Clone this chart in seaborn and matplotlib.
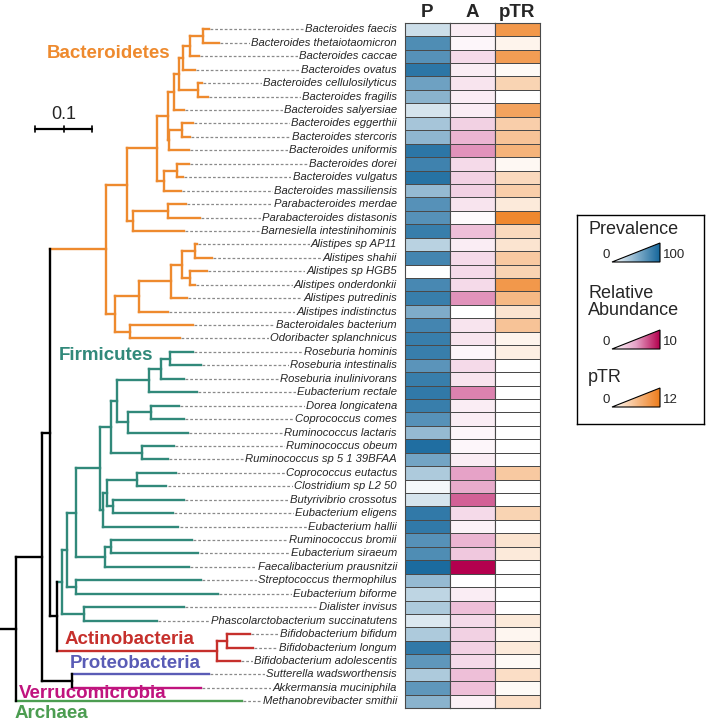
import numpy as np
import pandas as pd
import matplotlib
matplotlib.use("Agg")
import matplotlib.pyplot as plt
import seaborn as sns
from matplotlib.colors import LinearSegmentedColormap
from matplotlib.collections import LineCollection
from matplotlib.patches import Polygon

# ---- data -------------------------------------------------------------
BACTEROIDETES = (
    "(((((((((Bacteroides_faecis:0.011,Bacteroides_thetaiotaomicron:0.028):0.023,"
    "Bacteroides_caccae:0.016):0.012,Bacteroides_ovatus:0.021):0.007,"
    "(Bacteroides_cellulosilyticus:0.007,Bacteroides_fragilis:0.018):0.033):0.009,"
    "Bacteroides_salyersiae:0.018):0.011,"
    "((Bacteroides_eggerthii:0.019,Bacteroides_stercoris:0.014):0.023,"
    "Bacteroides_uniformis:0.035):0.002):0.018,"
    "((Bacteroides_dorei:0.021,Bacteroides_vulgatus:0.011):0.023,"
    "Bacteroides_massiliensis:0.030):0.011):0.053,"
    "((Parabacteroides_merdae:0.032,Parabacteroides_distasonis:0.056):0.060,"
    "Barnesiella_intestinihominis:0.088):0.011):0.037,"
    "(((((Alistipes_sp_AP11:0.004,Alistipes_shahii:0.030):0.023,"
    "(Alistipes_sp_HGB5:0.030,Alistipes_onderdonkii:0.009):0.014):0.019,"
    "Alistipes_putredinis:0.028):0.056,Alistipes_indistinctus:0.051):0.042,"
    "(Bacteroidales_bacterium:0.111,Odoribacter_splanchnicus:0.088):0.026):0.016)"
    "Bacteroidetes"
)
FIRMICUTES = (
    "(((((((((Roseburia_hominis:0.040,Roseburia_intestinalis:0.053):0.016,"
    "Roseburia_inulinivorans:0.039):0.021,Eubacterium_rectale:0.084):0.056,"
    "((Dorea_longicatena:0.049,Coprococcus_comes:0.058):0.040,"
    "Ruminococcus_lactaris:0.104):0.019):0.011,"
    "(Ruminococcus_obeum:0.056,Ruminococcus_sp_5_1_39BFAA:0.046):0.054):0.019,"
    "(((Coprococcus_eutactus:0.067,Clostridium_sp_L2_50:0.051):0.053,"
    "(Butyrivibrio_crossotus:0.123,Eubacterium_eligens:0.104):0.011):0.007,"
    "Eubacterium_hallii:0.132):0.005):0.042,"
    "((Ruminococcus_bromii:0.142,Eubacterium_siraeum:0.154):0.009,"
    "Faecalibacterium_prausnitzii:0.146):0.051):0.016,"
    "(Streptococcus_thermophilus:0.218,Eubacterium_biforme:0.249):0.016):0.009,"
    "(Dialister_invisus:0.174,Phascolarctobacterium_succinatutens:0.128):0.039)"
    "Firmicutes"
)
ACTINOBACTERIA = (
    "((Bifidobacterium_bifidum:0.040,Bifidobacterium_longum:0.044):0.018,"
    "Bifidobacterium_adolescentis:0.040)Actinobacteria"
)
TREE = (
    "(((" + BACTEROIDETES + ":0.098,(" + FIRMICUTES + ":0.009,"
    + ACTINOBACTERIA + ":0.281):0.012):0.014,"
    "(Sutterella_wadsworthensis:0.240,Akkermansia_muciniphila:0.225):0.053):0.046,"
    "Methanobrevibacter_smithii:0.396):0.028;"
)

SPECIES = [
    "Bacteroides faecis", "Bacteroides thetaiotaomicron", "Bacteroides caccae",
    "Bacteroides ovatus", "Bacteroides cellulosilyticus", "Bacteroides fragilis",
    "Bacteroides salyersiae", "Bacteroides eggerthii", "Bacteroides stercoris",
    "Bacteroides uniformis", "Bacteroides dorei", "Bacteroides vulgatus",
    "Bacteroides massiliensis", "Parabacteroides merdae", "Parabacteroides distasonis",
    "Barnesiella intestinihominis", "Alistipes sp AP11", "Alistipes shahii",
    "Alistipes sp HGB5", "Alistipes onderdonkii", "Alistipes putredinis",
    "Alistipes indistinctus", "Bacteroidales bacterium", "Odoribacter splanchnicus",
    "Roseburia hominis", "Roseburia intestinalis", "Roseburia inulinivorans",
    "Eubacterium rectale", "Dorea longicatena", "Coprococcus comes",
    "Ruminococcus lactaris", "Ruminococcus obeum", "Ruminococcus sp 5 1 39BFAA",
    "Coprococcus eutactus", "Clostridium sp L2 50", "Butyrivibrio crossotus",
    "Eubacterium eligens", "Eubacterium hallii", "Ruminococcus bromii",
    "Eubacterium siraeum", "Faecalibacterium prausnitzii", "Streptococcus thermophilus",
    "Eubacterium biforme", "Dialister invisus", "Phascolarctobacterium succinatutens",
    "Bifidobacterium bifidum", "Bifidobacterium longum", "Bifidobacterium adolescentis",
    "Sutterella wadsworthensis", "Akkermansia muciniphila", "Methanobrevibacter smithii",
]

PREVALENCE = [22, 75, 72, 90, 62, 50, 18, 38, 48, 90, 82, 92, 45, 72, 72, 85,
              30, 80, 0, 78, 85, 55, 80, 85, 85, 70, 85, 88, 85, 72, 45, 95, 60, 35,
              5, 18, 88, 88, 72, 75, 97, 45, 28, 35, 15, 35, 88, 68, 35, 68, 50]
ABUNDANCE = [1.0, 0.5, 2.0, 1.0, 1.5, 1.0, 1.0, 2.5, 4.0, 5.5, 2.0, 2.5,
             2.5, 1.5, 0.3, 3.5, 1.0, 2.0, 2.0, 2.0, 5.5, 0.0, 1.5, 1.5, 0.5,
             2.0, 1.5, 6.0, 1.0, 1.0, 0.5, 0.5, 1.0, 5.0, 4.5, 7.0, 2.0, 0.7,
             4.0, 3.0, 10.0, 0.0, 1.0, 3.5, 2.0, 2.5, 2.5, 2.0, 3.5, 3.5, 0.8]
PTR = [9.5, 1.0, 9.0, 0.5, 4.0, 0.0, 8.5, 4.5, 5.5, 7.0, 0.7, 3.5,
       4.5, 2.0, 11.0, 3.5, 2.5, 5.0, 4.0, 9.5, 6.5, 2.5, 5.5, 1.0, 1.5,
       0, 0, 0, 0, 0, 0, 0, 0, 5.0, 0, 0, 4.0, 0,
       2.5, 2.0, 0, 0, 0, 0, 2.0, 0.8, 2.0, 0.5, 3.0, 0.5, 3.0]

COLUMNS = ["P", "A", "pTR"]
LEGEND_TITLES = ["Prevalence", "Relative\nAbundance", "pTR"]
VMAX = [100, 10, 12]
SCALE_LENGTH = 0.1

CLADE_COLORS = {
    "Bacteroidetes": "#EE8A2E",
    "Firmicutes": "#31897A",
    "Actinobacteria": "#C6302C",
    "Sutterella wadsworthensis": "#5A5CB6",
    "Akkermansia muciniphila": "#C0147E",
    "Methanobrevibacter smithii": "#4C9D51",
}
PHYLA = ["Bacteroidetes", "Firmicutes", "Actinobacteria", "Proteobacteria",
         "Verrucomicrobia", "Archaea"]
PHYLA_COLORS = ["#EE8A2E", "#31897A", "#C6302C", "#5A5CB6", "#C0147E", "#4C9D51"]


def parse_newick(s):
    pos = 0

    def node():
        nonlocal pos
        children = []
        if s[pos] == "(":
            pos += 1
            children.append(node())
            while s[pos] == ",":
                pos += 1
                children.append(node())
            pos += 1
        start = pos
        while s[pos] not in ":,);":
            pos += 1
        name = s[start:pos].replace("_", " ")
        length = 0.0
        if s[pos] == ":":
            pos += 1
            start = pos
            while s[pos] not in ",);":
                pos += 1
            length = float(s[start:pos])
        return {"name": name, "length": length, "children": children}

    return node()


tree = parse_newick(TREE)
segments, seg_colors, leaves = [], [], []


def place(nd, x_parent, color):
    x = x_parent + nd["length"]
    color = CLADE_COLORS.get(nd["name"], color)
    if nd["children"]:
        ys = [place(c, x, color) for c in nd["children"]]
        y = (ys[0] + ys[-1]) / 2
        segments.append([(x, ys[0]), (x, ys[-1])])
        seg_colors.append(color)
    else:
        y = len(leaves) + 0.5
        leaves.append((nd["name"], x, y))
    segments.append([(x_parent, y), (x, y)])
    seg_colors.append(color)
    return y


place(tree, 0.0, "black")
assert [l[0] for l in leaves] == SPECIES

# ---- figure -------------------------------------------------------------
sns.set_style("white")
plt.rcParams["font.family"] = ["Liberation Sans", "DejaVu Sans"]

W, H = 706, 723
fig = plt.figure(figsize=(W / 100, H / 100), dpi=100)


def px_box(x0, y0, x1, y1):
    return [x0 / W, 1 - y1 / H, (x1 - x0) / W, (y1 - y0) / H]


TOP, BOTTOM = 22.7, 708
PX_PER_UNIT = 570

# tree
ax_t = fig.add_axes(px_box(0, TOP, 405, BOTTOM))
ax_t.set_xlim(0, 405 / PX_PER_UNIT)
ax_t.set_ylim(len(SPECIES), 0)
ax_t.axis("off")
ax_t.add_collection(LineCollection(segments, colors=seg_colors, linewidths=1.7,
                                   capstyle="projecting", zorder=3))
label_x = 397 / PX_PER_UNIT
for name, x, y in leaves:
    ax_t.plot([x + 0.002, label_x], [y, y], color="#8a8a8a", lw=0.9,
              linestyle=(0, (2.2, 1.6)), zorder=1)
    ax_t.text(label_x, y, name, ha="right", va="center", fontsize=8.1,
              style="italic", zorder=4,
              bbox=dict(fc="white", ec="none", pad=0.8))

# scale bar
sx, sy = 35 / PX_PER_UNIT, (129 - TOP) / 13.44
ax_t.plot([sx, sx + SCALE_LENGTH], [sy, sy], color="black", lw=1.6)
for xt in [sx, sx + SCALE_LENGTH / 2, sx + SCALE_LENGTH]:
    ax_t.plot([xt, xt], [sy - 0.2, sy + 0.2], color="black", lw=1.2)
ax_t.text(sx + SCALE_LENGTH / 2, sy - 1.05, f"{SCALE_LENGTH:g}", ha="center",
          va="center", fontsize=13)

# phylum labels
label_pos = [(47, 53), (59, 355.5), (65, 639), (70, 664), (19, 693), (15, 714)]
for name, col, (px, py) in zip(PHYLA, PHYLA_COLORS, label_pos):
    fig.text(px / W, 1 - py / H, name, ha="left", va="center", fontsize=13.5,
             fontweight="bold", color=col, zorder=5)

# heatmaps
cmaps = [
    LinearSegmentedColormap.from_list("prev", ["#ffffff", "#15679c"]),
    LinearSegmentedColormap.from_list("abund", ["#ffffff", "#e6a3c7", "#b4004e"]),
    LinearSegmentedColormap.from_list("ptr", ["#ffffff", "#ee7d1c"]),
]
values = [PREVALENCE, ABUNDANCE, PTR]
for k, (col, vals, cmap, vmax) in enumerate(zip(COLUMNS, values, cmaps, VMAX)):
    ax = fig.add_axes(px_box(405 + 45 * k, TOP, 450 + 45 * k, BOTTOM))
    df = pd.DataFrame({col: vals}, index=SPECIES)
    sns.heatmap(df, ax=ax, cmap=cmap, vmin=0, vmax=vmax, cbar=False,
                linewidths=0.7, linecolor="#4a4a4a",
                xticklabels=False, yticklabels=False)
    for sp in ax.spines.values():
        sp.set_visible(True)
        sp.set_color("#4a4a4a")
        sp.set_linewidth(0.8)
    ax.set_title(col, fontweight="bold", fontsize=13.5, pad=4)

# legend
ax_l = fig.add_axes(px_box(577, 215, 704, 424))
title_y = [229, 302, 377]
tri_y = [262, 349, 407]
for title, ty, by, cmap, vmax in zip(LEGEND_TITLES, title_y, tri_y, cmaps, VMAX):
    ax_l.text(588, ty, title, ha="left", va="center", fontsize=13,
              linespacing=1.05)
    tri = Polygon([(612, by), (660, by), (660, by - 19)], closed=True,
                  fc="none", ec="black", lw=0.8, zorder=3)
    ax_l.add_patch(tri)
    im = ax_l.imshow(np.linspace(0, 1, 200)[None, :], cmap=cmap, aspect="auto",
                     extent=(612, 660, by, by - 19), zorder=2)
    im.set_clip_path(tri)
    ax_l.text(606, by - 7, "0", ha="center", va="center", fontsize=9.5)
    ax_l.text(663, by - 7, f"{vmax}", ha="left", va="center", fontsize=9.5)
ax_l.set_xlim(577, 704)
ax_l.set_ylim(424, 215)
ax_l.set_xticks([])
ax_l.set_yticks([])
for sp in ax_l.spines.values():
    sp.set_visible(True)
    sp.set_color("black")
    sp.set_linewidth(1.0)

fig.savefig("out.png", dpi=100)
plt.close()
